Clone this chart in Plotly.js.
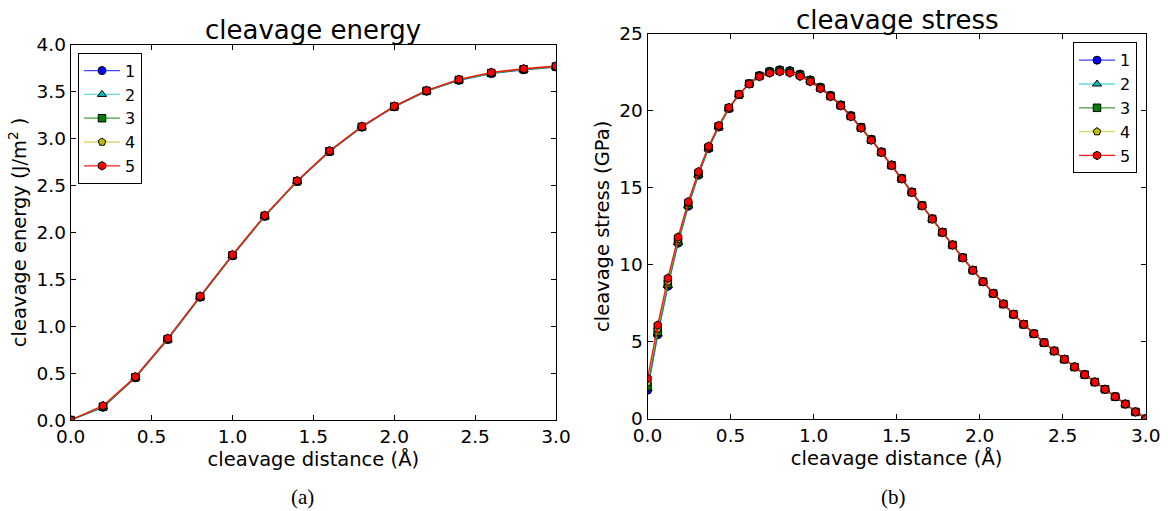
<!DOCTYPE html>
<html><head><meta charset="utf-8">
<script src="https://cdn.plot.ly/plotly-3.0.1.min.js"></script>
<style>html,body{margin:0;padding:0;background:#fff}#plot{width:1168px;height:511px}</style>
</head><body><div id="plot"></div>
<script>
// ---- data ----
const seriesNames = ["1", "2", "3", "4", "5"];

const distA = [0.0, 0.2, 0.4, 0.6, 0.8, 1.0, 1.2, 1.4, 1.6, 1.8, 2.0, 2.2, 2.4, 2.6, 2.8, 3.0];
const energy1 = [0, 0.135, 0.450, 0.858, 1.308, 1.750, 2.170, 2.541, 2.860, 3.121, 3.337, 3.504, 3.620, 3.693, 3.733, 3.762];
const energy2 = [0, 0.138, 0.452, 0.860, 1.310, 1.752, 2.172, 2.543, 2.862, 3.123, 3.339, 3.506, 3.622, 3.695, 3.735, 3.764];
const energy3 = [0, 0.142, 0.455, 0.863, 1.314, 1.755, 2.175, 2.545, 2.864, 3.125, 3.341, 3.508, 3.625, 3.698, 3.738, 3.767];
const energy4 = [0, 0.148, 0.458, 0.866, 1.317, 1.758, 2.178, 2.548, 2.867, 3.127, 3.343, 3.510, 3.627, 3.701, 3.741, 3.770];
const energy5 = [0, 0.153, 0.462, 0.870, 1.321, 1.762, 2.181, 2.551, 2.870, 3.130, 3.346, 3.513, 3.630, 3.705, 3.744, 3.773];

const distB = [0.0, 0.0612, 0.1224, 0.1837, 0.2449, 0.3061, 0.3673, 0.4286, 0.4898, 0.5510,
               0.6122, 0.6735, 0.7347, 0.7959, 0.8571, 0.9184, 0.9796, 1.0408, 1.1020, 1.1633,
               1.2245, 1.2857, 1.3469, 1.4082, 1.4694, 1.5306, 1.5918, 1.6531, 1.7143, 1.7755,
               1.8367, 1.8980, 1.9592, 2.0204, 2.0816, 2.1429, 2.2041, 2.2653, 2.3265, 2.3878,
               2.4490, 2.5102, 2.5714, 2.6327, 2.6939, 2.7551, 2.8163, 2.8776, 2.9388, 3.0];
const stress1 = [1.85, 5.45, 8.60, 11.40, 13.80, 15.82, 17.55, 18.95, 20.15, 21.05,
                 21.78, 22.30, 22.58, 22.68, 22.62, 22.40, 22.02, 21.55, 21.02, 20.40,
                 19.70, 18.95, 18.16, 17.35, 16.50, 15.63, 14.74, 13.87, 13.00, 12.13,
                 11.30, 10.47, 9.66, 8.91, 8.15, 7.46, 6.79, 6.14, 5.53, 4.95,
                 4.41, 3.87, 3.37, 2.87, 2.39, 1.92, 1.44, 0.96, 0.45, 0.00];
const stress2 = [1.95, 5.50, 8.65, 11.45, 13.84, 15.85, 17.57, 18.97, 20.16, 21.06,
                 21.78, 22.29, 22.56, 22.66, 22.60, 22.38, 22.00, 21.53, 21.00, 20.39,
                 19.69, 18.94, 18.15, 17.34, 16.49, 15.62, 14.73, 13.86, 12.99, 12.12,
                 11.30, 10.47, 9.66, 8.91, 8.15, 7.46, 6.79, 6.14, 5.53, 4.95,
                 4.41, 3.87, 3.37, 2.87, 2.39, 1.92, 1.44, 0.96, 0.45, 0.00];
const stress3 = [2.10, 5.65, 8.75, 11.52, 13.90, 15.90, 17.60, 18.99, 20.18, 21.06,
                 21.77, 22.27, 22.53, 22.62, 22.56, 22.34, 21.97, 21.50, 20.97, 20.37,
                 19.67, 18.92, 18.13, 17.32, 16.47, 15.60, 14.72, 13.85, 12.98, 12.11,
                 11.29, 10.46, 9.65, 8.90, 8.14, 7.45, 6.78, 6.13, 5.52, 4.94,
                 4.40, 3.86, 3.36, 2.86, 2.38, 1.91, 1.43, 0.95, 0.44, 0.00];
const stress4 = [2.35, 5.85, 8.90, 11.65, 14.00, 15.98, 17.65, 19.02, 20.20, 21.07,
                 21.76, 22.25, 22.50, 22.58, 22.51, 22.29, 21.93, 21.47, 20.95, 20.35,
                 19.65, 18.90, 18.12, 17.31, 16.46, 15.59, 14.71, 13.84, 12.98, 12.11,
                 11.29, 10.46, 9.65, 8.90, 8.14, 7.45, 6.78, 6.13, 5.52, 4.94,
                 4.40, 3.86, 3.36, 2.86, 2.38, 1.91, 1.43, 0.95, 0.44, 0.00];
const stress5 = [2.62, 6.08, 9.13, 11.80, 14.10, 16.05, 17.70, 19.05, 20.22, 21.08,
                 21.75, 22.23, 22.46, 22.55, 22.47, 22.25, 21.90, 21.45, 20.93, 20.33,
                 19.63, 18.88, 18.10, 17.30, 16.45, 15.58, 14.70, 13.83, 12.97, 12.10,
                 11.28, 10.45, 9.64, 8.90, 8.14, 7.45, 6.78, 6.13, 5.52, 4.94,
                 4.40, 3.86, 3.36, 2.86, 2.38, 1.91, 1.43, 0.95, 0.44, 0.00];

const ticksA_y = [0, 0.5, 1.0, 1.5, 2.0, 2.5, 3.0, 3.5, 4.0];
const ticksB_y = [0, 5, 10, 15, 20, 25];
const ticksX = [0, 0.5, 1.0, 1.5, 2.0, 2.5, 3.0];

// ---- styles ----
const markerColors = ["#0000ff", "#00bfbf", "#008000", "#bfbf00", "#ff0000"];
const lineColors = ["rgba(0,0,255,0.75)", "rgba(0,191,191,0.6)", "rgba(0,128,0,0.75)", "rgba(191,191,0,0.6)", "rgba(255,0,0,0.9)"];
const symbols = ["circle", "triangle-up", "square", "pentagon", "hexagon"];
const sizes = [8, 8, 7.5, 8, 8.5];

const energies = [energy1, energy2, energy3, energy4, energy5];
const stresses = [stress1, stress2, stress3, stress4, stress5];

const traces = [];
for (let k = 0; k < 5; k++) {
  traces.push({
    x: distA, y: energies[k], name: seriesNames[k], type: "scatter", mode: "lines+markers",
    xaxis: "x", yaxis: "y", legend: "legend",
    line: {color: lineColors[k], width: 1.3},
    marker: {symbol: symbols[k], size: sizes[k], color: markerColors[k], line: {color: "#000", width: 1}}
  });
}
for (let k = 0; k < 5; k++) {
  traces.push({
    x: distB, y: stresses[k], name: seriesNames[k], type: "scatter", mode: "lines+markers",
    xaxis: "x2", yaxis: "y2", legend: "legend2",
    line: {color: lineColors[k], width: 1.3},
    marker: {symbol: symbols[k], size: sizes[k], color: markerColors[k], line: {color: "#000", width: 1}}
  });
}

const FAM = "DejaVu Sans, sans-serif";
const tickFont = {family: FAM, size: 18.5, color: "#000"};
const labFont = {family: FAM, size: 19.5, color: "#000"};
function axis(extra) {
  return Object.assign({
    showline: true, mirror: "ticks", linecolor: "#000", linewidth: 1,
    ticks: "inside", ticklen: 5, tickcolor: "#000", tickwidth: 1,
    showgrid: false, zeroline: false, tickfont: tickFont, automargin: false
  }, extra);
}

const layout = {
  width: 1168, height: 511,
  margin: {l: 0, r: 0, t: 0, b: 0},
  paper_bgcolor: "#fff", plot_bgcolor: "#fff",
  font: {family: FAM, size: 17, color: "#000"},
  showlegend: true,
  xaxis: axis({domain: [0.0605, 0.476], range: [0, 3], tickvals: ticksX, tickformat: ".1f", anchor: "y",
    title: {text: "cleavage distance (Å)", font: labFont, standoff: 6}}),
  yaxis: axis({domain: [0.178, 0.9125], range: [0, 4], tickvals: ticksA_y, tickformat: ".1f", anchor: "x",
    title: {text: "cleavage energy (J/m<sup>2</sup> )", font: labFont, standoff: 4}}),
  xaxis2: axis({domain: [0.5544, 0.9809], range: [0, 3], tickvals: ticksX, tickformat: ".1f", anchor: "y2",
    title: {text: "cleavage distance (Å)", font: labFont, standoff: 6}}),
  yaxis2: axis({domain: [0.1806, 0.9335], range: [0, 25], tickvals: ticksB_y, anchor: "x2",
    title: {text: "cleavage stress (GPa)", font: labFont, standoff: 4}}),
  legend: {x: 78/1168, y: 1 - 52.7/511, xanchor: "left", yanchor: "top", bgcolor: "#fff",
    bordercolor: "#000", borderwidth: 1, font: {family: FAM, size: 16, color: "#000"},
    tracegroupgap: 0, itemwidth: 36},
  legend2: {x: 1137/1168, y: 1 - 42.3/511, xanchor: "right", yanchor: "top", bgcolor: "#fff",
    bordercolor: "#000", borderwidth: 1, font: {family: FAM, size: 16, color: "#000"},
    tracegroupgap: 0, itemwidth: 36},
  annotations: [
    {text: "cleavage energy", xref: "paper", yref: "paper", x: 313/1168, y: 1 - 30/511, xanchor: "center", yanchor: "middle",
     showarrow: false, font: {family: FAM, size: 26, color: "#000"}},
    {text: "cleavage stress", xref: "paper", yref: "paper", x: 897/1168, y: 1 - 20/511, xanchor: "center", yanchor: "middle",
     showarrow: false, font: {family: FAM, size: 26, color: "#000"}},
    {text: "(a)", xref: "paper", yref: "paper", x: 302/1168, y: 1 - 497/511, xanchor: "center", yanchor: "middle",
     showarrow: false, font: {family: "Liberation Serif, serif", size: 21, color: "#000"}},
    {text: "(b)", xref: "paper", yref: "paper", x: 893/1168, y: 1 - 497/511, xanchor: "center", yanchor: "middle",
     showarrow: false, font: {family: "Liberation Serif, serif", size: 21, color: "#000"}}
  ]
};

Plotly.newPlot("plot", traces, layout, {displayModeBar: false, staticPlot: true});
</script></body></html>
